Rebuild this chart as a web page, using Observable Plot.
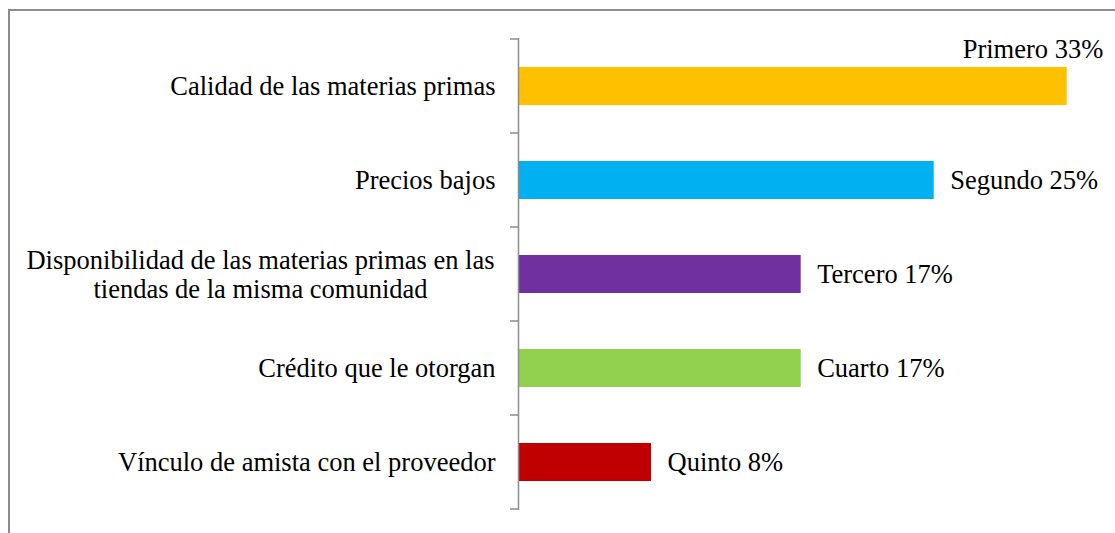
<!DOCTYPE html>
<html>
<head>
<meta charset="utf-8">
<script src="https://cdn.jsdelivr.net/npm/d3@7"></script>
<script src="https://cdn.jsdelivr.net/npm/@observablehq/plot@0.6"></script>
<style>
  html, body { margin: 0; padding: 0; background: #fff; }
  #chart svg { display: block; }
  #chart svg text, #chart svg tspan { font-family: "Liberation Serif", "Times New Roman", "DejaVu Serif", serif !important; }
</style>
</head>
<body>
<div id="chart"></div>
<script>
const categories = [
  "Calidad de las materias primas",
  "Precios bajos",
  "Disponibilidad de las materias primas en las\ntiendas de la misma comunidad",
  "Crédito que le otorgan",
  "Vínculo de amista con el proveedor"
];
const values = [33, 25, 17, 17, 8];
const ranks = ["Primero", "Segundo", "Tercero", "Cuarto", "Quinto"];
const colors = ["#FFC000", "#00B0F0", "#7030A0", "#92D050", "#C00000"];

const data = categories.map((c, i) => ({
  cat: c, value: values[i], rank: ranks[i], color: colors[i],
  label: `${ranks[i]} ${values[i]}%`, multi: c.includes("\n"), first: i === 0
}));

const font = "Liberation Serif, Times New Roman, serif";
const fs = 26.5;

const chart = Plot.plot({
  width: 1115,
  height: 533,
  marginLeft: 518,
  marginRight: 15,
  marginTop: 38,
  marginBottom: 23,
  style: { fontFamily: font, fontSize: fs + "px", color: "#000", background: "#fff" },
  x: { domain: [0, 35], axis: null },
  y: { domain: categories, paddingInner: 0.6, paddingOuter: 0.3, axis: null },
  marks: [
    Plot.barX(data, { y: "cat", x: "value", fill: "color" }),
    Plot.ruleX([0], { stroke: "#8c8c8c", strokeWidth: 1.5 }),
    Plot.text(data.filter(d => !d.multi), {
      y: "cat", x: 0, text: "cat", textAnchor: "end", dx: -23, fill: "#000", fontSize: fs
    }),
    Plot.text(data.filter(d => d.multi), {
      y: "cat", x: 0, text: "cat", textAnchor: "middle", dx: -258, lineHeight: 1.1, fill: "#000", fontSize: fs
    }),
    Plot.text(data.filter(d => !d.first), {
      y: "cat", x: "value", text: "label", textAnchor: "start", dx: 16, fill: "#000", fontSize: fs
    }),
    Plot.text(data.filter(d => d.first), {
      y: "cat", x: "value", text: "label", textAnchor: "end", dx: 36, dy: -37, fill: "#000", fontSize: fs
    })
  ]
});

// band boundary ticks on the category axis, from the plot's own y scale
const ys = chart.scale("y");
const xs = chart.scale("x");
const x0 = xs.apply(0);
const gap = ys.step - ys.bandwidth;
const bounds = categories.map(c => ys.apply(c) - gap / 2);
bounds.push(ys.apply(categories[categories.length - 1]) + ys.bandwidth + gap / 2);
const svg = d3.select(chart);
svg.attr("font-family", "Liberation Serif");
svg.append("g")
  .attr("stroke", "#8c8c8c").attr("stroke-width", 1.5)
  .selectAll("line").data(bounds).join("line")
  .attr("x1", x0 - 8).attr("x2", x0)
  .attr("y1", d => d).attr("y2", d => d);

// outer chart border (top and left edges visible)
svg.append("path")
  .attr("d", "M9,533V10H1115")
  .attr("fill", "none")
  .attr("stroke", "#8c8c8c")
  .attr("stroke-width", 2);

document.getElementById("chart").appendChild(chart);
</script>
</body>
</html>
